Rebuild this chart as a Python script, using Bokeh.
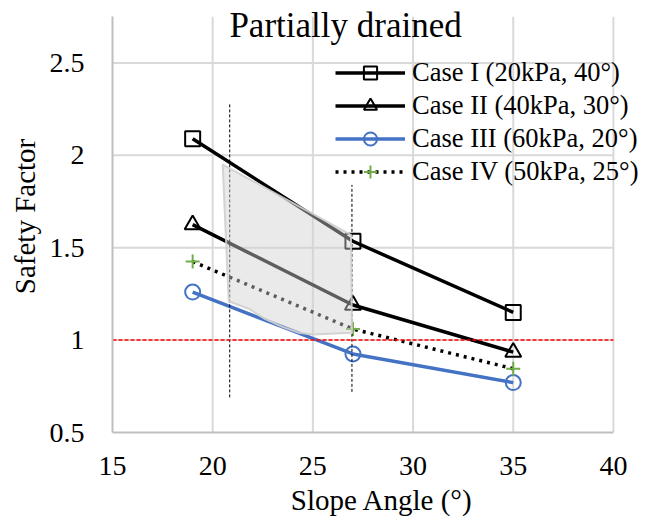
from bokeh.plotting import figure
from bokeh.models import Range1d, FixedTicker, Legend, LegendItem, Label
from bokeh.embed import file_html
from bokeh.resources import INLINE

# ---- data ----
slope_angles = [19, 27, 35]
case1 = [2.09, 1.535, 1.15]
case2 = [1.625, 1.19, 0.935]
case3 = [1.26, 0.925, 0.77]
case4 = [1.425, 1.06, 0.845]
series_labels = ["Case I (20kPa, 40°)", "Case II (40kPa, 30°)",
                 "Case III (60kPa, 20°)", "Case IV (50kPa, 25°)"]
title_text = "Partially drained"
x_label = "Slope Angle (°)"
y_label = "Safety Factor"
x_ticks = [15, 20, 25, 30, 35, 40]
y_ticks = [0.5, 1.0, 1.5, 2.0, 2.5]
y_tick_labels = ["0.5", "1", "1.5", "2", "2.5"]
y_top = 2.75
threshold = 1.0
guide_x = [20.85, 26.95]
guide_y0 = [0.69, 0.72]
guide_y1 = [2.28, 1.84]
region_x = [20.5, 26.9, 26.95, 25.0, 24.3, 23.5, 22.6, 21.8, 20.8]
region_y = [1.95, 1.57, 1.04, 1.03, 1.04, 1.07, 1.115, 1.17, 1.21]

FONT = "Liberation Serif"
BLUE = "#4472C4"
GREEN = "#70AD47"
GRID = "#d9d9d9"

p = figure(width=651, height=519, x_range=Range1d(15, 41.9), y_range=Range1d(0.5, 2.838),
           output_backend="svg", toolbar_location=None,
           min_border_left=112, min_border_right=0, min_border_top=0, min_border_bottom=87)
p.outline_line_color = None
p.background_fill_color = "white"
p.border_fill_color = "white"
p.xgrid.visible = False
p.ygrid.visible = False

for ax in (p.xaxis[0], p.yaxis[0]):
    ax.axis_line_color = "#bfbfbf"
    ax.axis_line_width = 2
    ax.major_tick_line_color = None
    ax.minor_tick_line_color = None
    ax.major_label_text_font = FONT
    ax.major_label_text_font_size = "28px"
    ax.major_label_text_color = "black"
    ax.axis_label_text_font = FONT
    ax.axis_label_text_font_size = "29px"
    ax.axis_label_text_font_style = "normal"
    ax.axis_label_text_color = "black"

p.xaxis.ticker = FixedTicker(ticks=x_ticks)
p.yaxis.ticker = FixedTicker(ticks=y_ticks)
p.xaxis.bounds = (x_ticks[0], x_ticks[-1])
p.yaxis.bounds = (y_ticks[0], y_top)
p.yaxis.major_label_overrides = {t: s for t, s in zip(y_ticks, y_tick_labels)}
p.xaxis.axis_label = x_label
p.yaxis.axis_label = y_label
p.xaxis.major_label_standoff = 18
p.xaxis.axis_label_standoff = 6
p.yaxis.major_label_standoff = 22
p.yaxis.axis_label_standoff = 6

# gridlines (drawn as segments so they stop at the plot area's top / right)
gx = x_ticks[1:]
p.segment(x0=gx, y0=[y_ticks[0]] * len(gx), x1=gx, y1=[y_top] * len(gx),
          line_color=GRID, line_width=2)
gy = y_ticks[1:]
p.segment(x0=[x_ticks[0]] * len(gy), y0=gy, x1=[x_ticks[-1]] * len(gy), y1=gy,
          line_color=GRID, line_width=2)

# series
l1 = p.line(slope_angles, case1, line_color="black", line_width=3.5)
m1 = p.scatter(slope_angles, case1, marker="square", size=15, line_color="black",
               line_width=2, fill_color=None)
l2 = p.line(slope_angles, case2, line_color="black", line_width=3.5)
m2 = p.scatter(slope_angles, case2, marker="triangle", size=16, line_color="black",
               line_width=2, fill_color=None)
l3 = p.line(slope_angles, case3, line_color=BLUE, line_width=3.5)
m3 = p.scatter(slope_angles, case3, marker="circle", size=15, line_color=BLUE,
               line_width=2, fill_color=None)
l4 = p.line(slope_angles, case4, line_color="black", line_width=3.5, line_dash="3 5")
m4 = p.scatter(slope_angles, case4, marker="cross", size=14, line_color=GREEN,
               line_width=2)

# guide lines
p.segment(x0=guide_x, y0=guide_y0, x1=guide_x, y1=guide_y1, line_color="black",
          line_width=1, line_dash="3 2")

# shaded overlay region
p.patch(region_x, region_y, fill_color="#d0d0d0", fill_alpha=0.45,
        line_color="#cfcfcf", line_width=2, line_alpha=0.9)

# threshold line
p.line([x_ticks[0], x_ticks[-1]], [threshold, threshold], line_color="red",
       line_width=1.5, line_dash="4 2")

# title inside the plot area
p.add_layout(Label(x=26.63, y=2.70, text=title_text, text_font=FONT,
                   text_font_size="35px", text_align="center", text_baseline="middle",
                   text_color="black"))

legend = Legend(items=[
    LegendItem(label=series_labels[0], renderers=[l1, m1]),
    LegendItem(label=series_labels[1], renderers=[l2, m2]),
    LegendItem(label=series_labels[2], renderers=[l3, m3]),
    LegendItem(label=series_labels[3], renderers=[l4, m4]),
], location=(223, 244))
legend.label_text_font = FONT
legend.label_text_font_size = "26.5px"
legend.label_text_color = "black"
legend.glyph_width = 70
legend.glyph_height = 33
legend.label_height = 33
legend.spacing = 0
legend.padding = 0
legend.margin = 0
legend.label_standoff = 7
legend.background_fill_alpha = 0
legend.border_line_color = None
p.add_layout(legend)

open("out.html", "w").write(file_html(p, INLINE))
